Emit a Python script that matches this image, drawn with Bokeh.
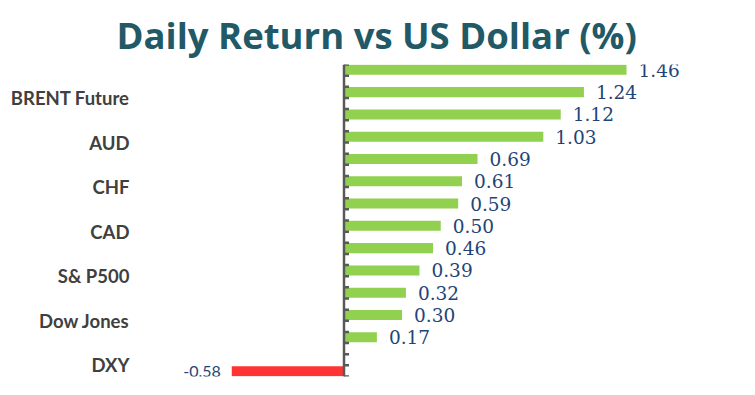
from bokeh.plotting import figure
from bokeh.models import Range1d, FixedTicker, ColumnDataSource, Span
from bokeh.core.properties import value
from bokeh.embed import file_html
from bokeh.resources import INLINE

# ---- data ----
categories = ["", "BRENT Future", "", "AUD", "", "CHF", "", "CAD", "",
              "S& P500", "", "Dow Jones", "", "DXY"]
returns = [1.46, 1.24, 1.12, 1.03, 0.69, 0.61, 0.59, 0.50, 0.46, 0.39,
           0.32, 0.30, 0.17, -0.58]
title_text = "Daily Return vs US Dollar (%)"

n = len(categories)
ypos = [n - 1 - i for i in range(n)]

pos = dict(y=[], v=[], lab=[])
neg = dict(y=[], v=[], lab=[])
for y, v in zip(ypos, returns):
    d = pos if v >= 0 else neg
    d["y"].append(y + 0.26 if v >= 0 else y - 0.26)
    d["v"].append(v)
    d["lab"].append("%.2f" % v)
src_pos = ColumnDataSource(pos)
src_neg = ColumnDataSource(neg)

W, H = 745, 387
px_per_unit = 193.5
frame_left, zero_px, frame_right = 140, 343.5, 730
frame_top, frame_bottom = 64, 376
x0 = -(zero_px - frame_left) / px_per_unit
x1 = (frame_right - zero_px) / px_per_unit

p = figure(width=W, height=H, output_backend="svg", toolbar_location=None,
           x_range=Range1d(x0, x1), y_range=Range1d(-0.5, n - 0.5),
           min_border_left=frame_left, min_border_right=W - frame_right,
           min_border_top=frame_top, min_border_bottom=H - frame_bottom,
           title=title_text)
p.title.align = "left"
p.title.offset = -24
p.title.text_font = "Open Sans"
p.title.text_font_style = "bold"
p.title.text_font_size = "36.5px"
p.title.text_color = "#215967"
p.title.text_line_height = 0.8
p.title.standoff = 10

p.outline_line_color = None
p.grid.visible = False
p.xaxis.visible = False

yax = p.yaxis[0]
yax.ticker = FixedTicker(ticks=ypos)
yax.major_label_overrides = {y: c for y, c in zip(ypos, categories)}
yax.axis_line_color = None
yax.major_tick_line_color = None
yax.minor_tick_line_color = None
yax.major_tick_out = 0
yax.major_tick_in = 0
yax.major_label_standoff = 11
yax.major_label_text_font = "Lato"
yax.major_label_text_font_style = "bold"
yax.major_label_text_font_size = "18.5px"
yax.major_label_text_color = "#404040"

# bars
p.hbar(y="y", left=0, right="v", height=0.45, source=src_pos,
       fill_color="#92D050", line_color=None)
p.hbar(y="y", left=0, right="v", height=0.45, source=src_neg,
       fill_color="#FF3333", line_color=None)

# value labels
p.text(x="v", y="y", text="lab", source=src_pos, x_offset=12,
       text_align="left", text_baseline="middle",
       text_font=value("DejaVu Serif"), text_font_size="18.5px",
       text_color="#1F4577")
p.text(x="v", y="y", text="lab", source=src_neg, x_offset=-11,
       text_align="right", text_baseline="middle",
       text_font=value("Lato"), text_font_size="16px",
       text_color="#1F4577")

# category axis at zero with tick marks every half category
half_ticks = [k * 0.5 - 0.5 for k in range(2 * n + 1)]
p.ray(x=[0] * len(half_ticks), y=half_ticks, length=5, length_units="screen",
      angle=0, line_color="#595959", line_width=2.5)
p.add_layout(Span(location=0, dimension="height", line_color="#595959",
                  line_width=2.5))

open("out.html", "w").write(file_html(p, INLINE))
